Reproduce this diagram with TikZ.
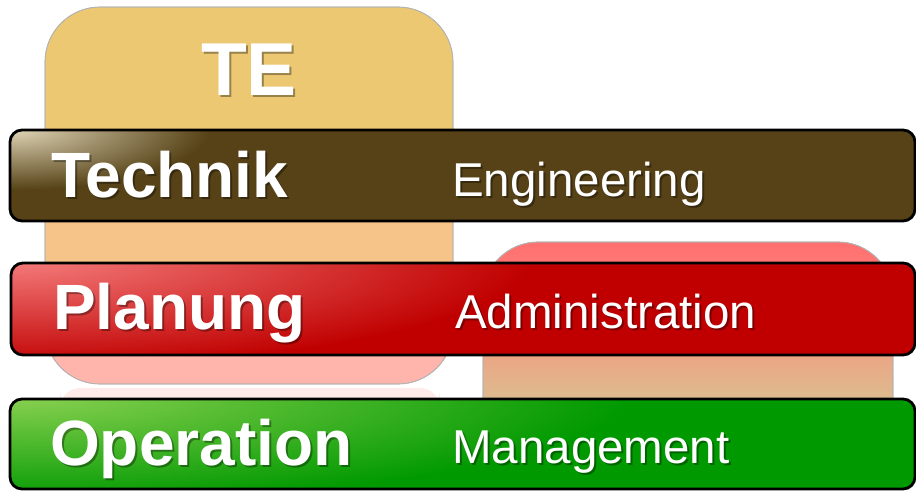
\documentclass[tikz,border=0pt]{standalone}
\usepackage{fontspec}
\setmainfont{Liberation Sans}
\definecolor{teYellow}{RGB}{236,200,115}
\definecolor{teOrange}{RGB}{246,195,136}
\definecolor{tePink}{RGB}{255,180,172}
\definecolor{rbRed}{RGB}{255,112,112}
\definecolor{rbRed2}{RGB}{255,120,118}
\definecolor{rbMid}{RGB}{233,168,134}
\definecolor{rbTan}{RGB}{222,186,142}
\definecolor{brownBase}{RGB}{86,66,22}
\definecolor{brownGloss}{RGB}{226,216,186}
\definecolor{redBase}{RGB}{192,0,0}
\definecolor{redGloss}{RGB}{246,126,126}
\definecolor{greenBase}{RGB}{0,153,0}
\definecolor{greenGloss}{RGB}{140,210,82}
\pgfdeclareverticalshading{teshade}{100bp}{color(0bp)=(tePink); color(25bp)=(tePink); color(28.5bp)=(tePink); color(41bp)=(teOrange); color(46bp)=(teOrange); color(58bp)=(teYellow); color(100bp)=(teYellow)}
\pgfdeclareverticalshading{rbshade}{100bp}{color(0bp)=(rbTan); color(41bp)=(rbTan); color(49bp)=(rbMid); color(70bp)=(rbRed2); color(75bp)=(rbRed); color(100bp)=(rbRed)}
\begin{document}
\begin{tikzpicture}[x=1pt,y=-1pt,
  panel/.style={rounded corners=55pt, draw=black!30, line width=0.7pt},
  bar/.style={rounded corners=12pt, draw=black, line width=2.8pt},
  bigtxt/.style={font=\fontsize{64}{64}\bfseries\selectfont, text=white, anchor=base west, inner sep=0pt},
  smalltxt/.style={font=\fontsize{47.5}{47.5}\selectfont, text=white, anchor=base west, inner sep=0pt},
  tetxt/.style={font=\fontsize{75}{75}\bfseries\selectfont, text=white, anchor=base, inner sep=0pt},
  shadowtxt/.style={text=black, opacity=0.35}
]
\useasboundingbox (0,0) rectangle (916,491);
% faint reflection
\fill[tePink, opacity=0.25, rounded corners=20pt] (60,388) rectangle (440,410);
% TE panel
\path[panel, shading=teshade] (45,7) rectangle (453,384);
\draw[panel] (45,7) rectangle (453,384);
% right panel
\path[panel, shading=rbshade] (483,242) rectangle (893,470);
\draw[panel] (483,242) rectangle (893,470);
% TE text
\node[tetxt, shadowtxt] at (251,97) {TE};
\node[tetxt] (te) at (249,95) {TE};

% Technik bar
\begin{scope}
  \clip[rounded corners=12pt] (10,130) rectangle (915,221);
  \fill[brownBase] (10,130) rectangle (915,221);
  \shade[inner color=brownGloss, outer color=brownBase] (10,128) ellipse (200 and 62);
\end{scope}
\draw[bar] (10,130) rectangle (915,221);
% Planung bar
\begin{scope}
  \clip[rounded corners=12pt] (11,263) rectangle (915,355);
  \fill[redBase] (11,263) rectangle (915,355);
  \shade[inner color=redGloss, outer color=redBase] (11,258) ellipse (520 and 110);
\end{scope}
\draw[bar] (11,263) rectangle (915,355);
% Operation bar
\begin{scope}
  \clip[rounded corners=12pt] (10,399) rectangle (915,489);
  \fill[greenBase] (10,399) rectangle (915,489);
  \shade[inner color=greenGloss, outer color=greenBase] (10,394) ellipse (620 and 110);
\end{scope}
\draw[bar] (10,399) rectangle (915,489);

% texts
\node[bigtxt, shadowtxt] at (53,199) {Technik};
\node[bigtxt] (technik) at (51,197) {Technik};
\node[smalltxt, shadowtxt] at (454,198) {Engineering};
\node[smalltxt] (eng) at (452,196) {Engineering};
\node[bigtxt, shadowtxt] at (55,331) {Planung};
\node[bigtxt] (planung) at (53,329) {Planung};
\node[smalltxt, shadowtxt] at (457,330) {Administration};
\node[smalltxt] (adm) at (455,328) {Administration};
\node[bigtxt, shadowtxt] at (52,467) {Operation};
\node[bigtxt] (operation) at (50,465) {Operation};
\node[smalltxt, shadowtxt] at (454,465) {Management};
\node[smalltxt] (mgmt) at (452,463) {Management};
\end{tikzpicture}
\end{document}
